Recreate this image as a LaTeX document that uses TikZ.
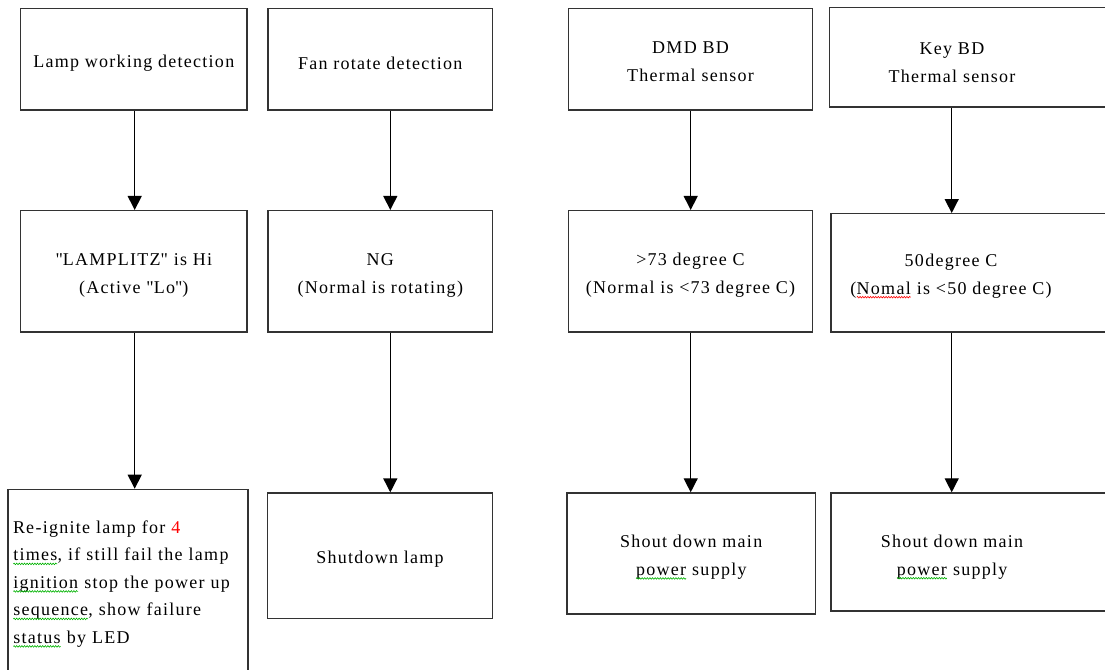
\documentclass[tikz,border=0pt]{standalone}
\usepackage{fontspec}
\setmainfont{Liberation Serif}[LetterSpace=7]
\usetikzlibrary{arrows.meta,decorations.pathmorphing}

% body text size used in every box
\newcommand\fs{\fontsize{18}{28}\selectfont}
% strut that lowers a box's text a little
\newcommand\st[1][20pt]{\rule{0pt}{#1}}
% word with a wavy proofing underline in the given colour
\newcommand\squig[2]{\tikz[baseline=(w.base),x=1pt,y=1pt]{%
  \node[inner sep=0pt,outer sep=0pt,minimum width=0pt,minimum height=0pt,
        draw=none,text width=] (w) {#2};%
  \draw[#1,line width=0.6pt,decorate,decoration={snake,amplitude=0.8pt,segment length=2.6pt}]
    ([yshift=-3pt]w.base west) -- ([yshift=-3pt]w.base east);}}
\newcommand\q{\textquotedbl}

\tikzset{
  box/.style={draw=black!80, line width=1.4pt, inner sep=4pt, align=center, font=\fs},
  txt/.style={inner sep=0pt, align=center, font=\fs},
  arr/.style={draw=black, line width=1.3pt, -{Triangle[width=14pt,length=14pt]}}
}

\begin{document}
\begin{tikzpicture}[x=1pt,y=-1pt]
\useasboundingbox (0,0) rectangle (1105,669);
\clip (0,0) rectangle (1105,669);

% arrow columns
\coordinate (ax) at (134.7,0);
\coordinate (bx) at (390.3,0);
\coordinate (cx) at (690.7,0);
\coordinate (dx) at (951.7,0);

% row 1: detection sources
\node[box, minimum width=226.3pt, minimum height=101.7pt] (A1) at (133.8,59.2) {\st Lamp working detection};
\node[box, minimum width=224.7pt, minimum height=101.7pt] (B1) at (380.3,59.2) {\st Fan rotate detection};
\node[box, minimum width=244.4pt, minimum height=101.7pt] (C1) at (690.5,59.2) {\st[16pt]DMD BD\\Thermal sensor};
\node[box, minimum width=285.8pt, minimum height=99.7pt] (D1) at (972.2,57.2) {};
\node[txt] (D1t) at (952,63) {Key BD\\Thermal sensor};

% row 2: fault conditions
\node[box, minimum width=226.3pt, minimum height=121.3pt] (A2) at (133.8,271.3) {\st\q LAMPLITZ\q{} is Hi\\(Active \q Lo\q)};
\node[box, minimum width=224.7pt, minimum height=121.3pt] (B2) at (380.3,271.3) {\st NG\\(Normal is rotating)};
\node[box, minimum width=244.4pt, minimum height=121.3pt] (C2) at (690.5,271.3) {\st>73 degree C\\(Normal is <73 degree C)};
\node[box, minimum width=284pt, minimum height=118.3pt] (D2) at (973,272.9) {};
\node[txt] (D2t) at (951,276) {50degree C\\(\squig{red}{Nomal} is <50 degree C)};

% row 3: actions
\node[box, anchor=north west, text width=230pt, align=left, inner xsep=5pt, inner ysep=24pt,
      font=\fontsize{18}{27.5}\selectfont] (A3) at (7.3,488.7)
  {\st Re-ignite lamp for \textcolor{red}{4}\\
   \squig{green!70!black}{times}, if still fail the lamp\\
   \squig{green!70!black}{ignition} stop the power up\\
   \squig{green!70!black}{sequence}, show failure\\
   \squig{green!70!black}{status} by LED\rule[-20pt]{0pt}{0pt}};
\node[box, minimum width=225.4pt, minimum height=125.3pt] (B3) at (380,555.7) {\st Shutdown lamp};
\node[box, minimum width=248.3pt, minimum height=121pt] (C3) at (691.2,553.5) {\st Shout down main\\\squig{green!70!black}{power} supply};
\node[box, minimum width=284pt, minimum height=118pt] (D3) at (973,552) {};
\node[txt] (D3t) at (952,557) {Shout down main\\\squig{green!70!black}{power} supply};

% connectors
\draw[arr] (A1.south -| ax) -- (A2.north -| ax);
\draw[arr] (A2.south -| ax) -- (A3.north -| ax);
\draw[arr] (B1.south -| bx) -- (B2.north -| bx);
\draw[arr] (B2.south -| bx) -- (B3.north -| bx);
\draw[arr] (C1.south -| cx) -- (C2.north -| cx);
\draw[arr] (C2.south -| cx) -- (C3.north -| cx);
\draw[arr] (D1.south -| dx) -- (D2.north -| dx);
\draw[arr] (D2.south -| dx) -- (D3.north -| dx);
\end{tikzpicture}
\end{document}
